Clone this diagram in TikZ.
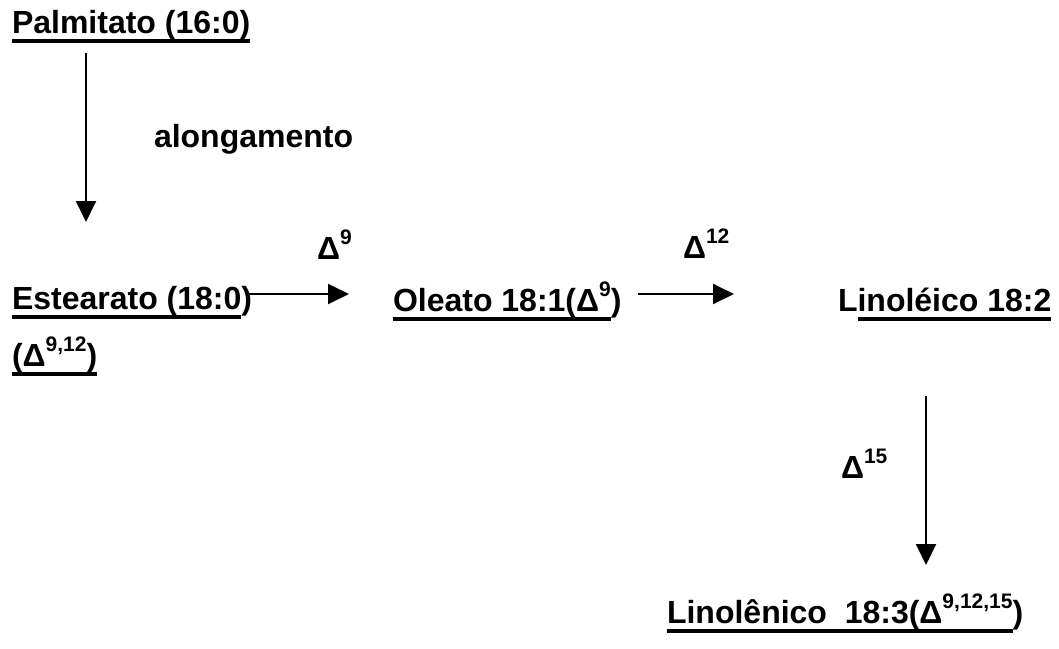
\documentclass[tikz,border=0pt]{standalone}
\usepackage{fontspec}
\setmainfont{Liberation Sans}
\usepackage{tikz}
\usetikzlibrary{arrows.meta}
\newcommand\unter[1]{\setbox0\hbox{#1}\rlap{\rule[-4.9pt]{\wd0}{1.8pt}}\box0}% Unterstreichung
\newcommand\hoch[1]{\raisebox{.45em}{\fontsize{10.5pt}{12pt}\selectfont#1}}% Hochstellung
\tikzset{
  stoff/.style={inner sep=0pt, outer sep=0pt, anchor=base west,
    font=\fontsize{16pt}{19pt}\selectfont\bfseries}, % Fettsaeuren
  enzym/.style={stoff}, % Beschriftung der Pfeile
  pfeil/.style={line width=1pt,-{Triangle[length=10.5pt,width=10pt]}} % Pfeile
}

\begin{document}
\begin{tikzpicture}[x=0.5pt,y=-0.5pt]
\useasboundingbox (0,0) rectangle (1059,648);

%Fettsaeuren
\node[stoff] (palm) at (12,33) {\unter{Palmitato (16:0)}};
\node[stoff] (est) at (12,309) {\unter{Estearato (18:0})};
\node[stoff] (estb) at (12,366) {\unter{(Δ\hoch{9,12})}};
\node[stoff] (ole) at (393,311) {\unter{Oleato 18:1(Δ\hoch{9}})};
\node[stoff] (linol) at (838,311) {L\unter{inoléico 18:2}};
\node[stoff] (linoln) at (667,623) {\unter{Linolênico\ \ 18:3(Δ\hoch{9,12,15}})};

%Enzyme
\node[enzym] (along) at (154,147) {alongamento};
\node[enzym] (d9) at (317,259) {Δ\hoch{9}};
\node[enzym] (d12) at (683,258) {Δ\hoch{12}};
\node[enzym] (d15) at (841,478) {Δ\hoch{15}};

%Pfeile
\coordinate (p1a) at (86,53);
\coordinate (p1b) at (86,222);
\coordinate (p2a) at (248,294);
\coordinate (p2b) at (349,294);
\coordinate (p3a) at (638,294);
\coordinate (p3b) at (734,294);
\coordinate (p4a) at (926,396);
\coordinate (p4b) at (926,565);

\draw[pfeil] (p1a) -- (p1b);
\draw[pfeil] (p2a) -- (p2b);
\draw[pfeil] (p3a) -- (p3b);
\draw[pfeil] (p4a) -- (p4b);

\end{tikzpicture}
\end{document}
